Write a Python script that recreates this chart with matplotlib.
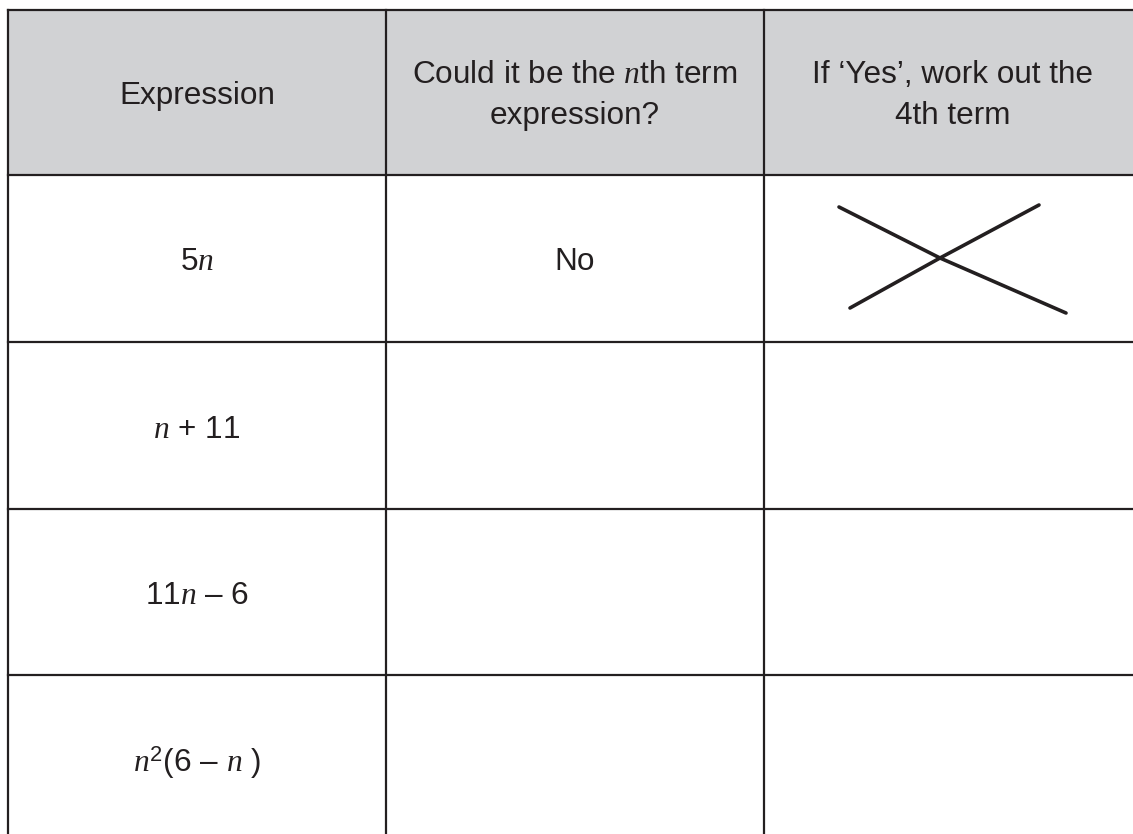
import matplotlib
matplotlib.use('Agg')
import matplotlib.pyplot as plt

plt.rcParams['font.family'] = ['Liberation Sans', 'DejaVu Sans']
plt.rcParams['mathtext.fontset'] = 'custom'
plt.rcParams['mathtext.rm'] = 'Liberation Sans'
plt.rcParams['mathtext.it'] = 'Liberation Serif:italic'

# table content
headers = ['Expression',
           'Could it be the $n$th term\nexpression?',
           'If \u2018Yes\u2019, work out the\n4th term']
expressions = ['5$n$', '$n$ + 11', '11$n$ \u2013 6', '$n^2$(6 \u2013 $n$ )']
answers = ['No', '', '', '']

# grid edges (pixels)
col_edges = [8, 386, 764, 1142]
row_edges = [10, 175, 342, 509, 675, 842]

# hand-drawn cross in the first row, last column
cross_a_x = [839, 940, 1066]
cross_a_y = [207, 258, 313]
cross_b_x = [850, 940, 1039]
cross_b_y = [308, 258, 205]

ink = '#231f20'
head_bg = '#d1d2d4'
fs = 22.7

fig = plt.figure(figsize=(11.33, 8.34), dpi=100)
ax = fig.add_axes([0, 0, 1, 1])
ax.set_xlim(0, 1133)
ax.set_ylim(834, 0)
ax.axis('off')

# header shading
ax.fill_between([col_edges[0], col_edges[-1]], row_edges[0], row_edges[1],
                color=head_bg, lw=0)

for x in col_edges:
    ax.plot([x, x], [row_edges[0], row_edges[-1]], color=ink, lw=1.6)
for y in row_edges:
    ax.plot([col_edges[0], col_edges[-1]], [y, y], color=ink, lw=1.6)

def cx(i):
    return (col_edges[i] + col_edges[i + 1]) / 2

def cy(j):
    return (row_edges[j] + row_edges[j + 1]) / 2

for i, h in enumerate(headers):
    ax.text(cx(i), cy(0) + 3, h, ha='center', va='center', fontsize=fs,
            color=ink, linespacing=1.45)

for j, (e, a) in enumerate(zip(expressions, answers)):
    ax.text(cx(0), cy(j + 1) + 4, e, ha='center', va='center', fontsize=fs, color=ink)
    if a:
        ax.text(cx(1), cy(j + 1) + 4, a, ha='center', va='center', fontsize=fs, color=ink)

ax.plot(cross_a_x, cross_a_y, color=ink, lw=2.6, solid_capstyle='round')
ax.plot(cross_b_x, cross_b_y, color=ink, lw=2.6, solid_capstyle='round')

fig.savefig('out.png', dpi=100)
